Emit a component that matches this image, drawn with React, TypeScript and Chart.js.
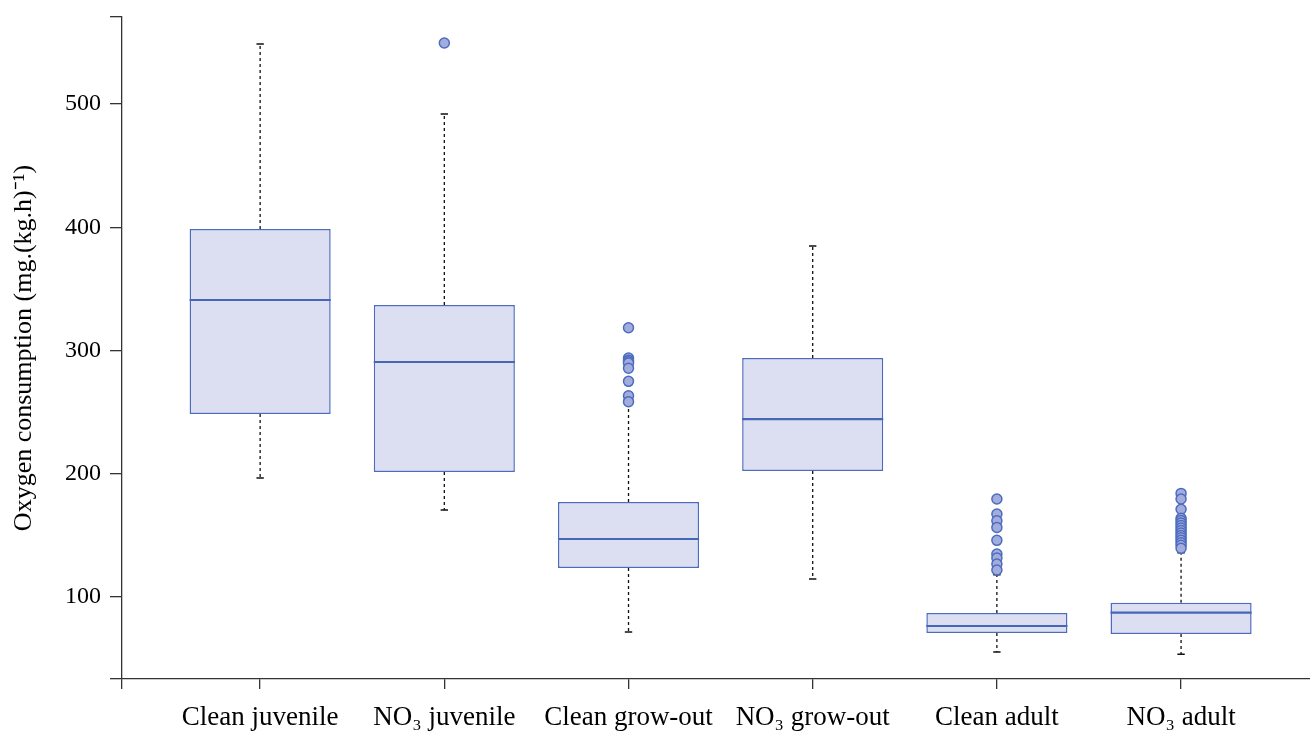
import React, { useEffect, useRef } from 'react';
import { Chart, registerables } from 'chart.js';

Chart.register(...registerables);

const categories = ['Clean juvenile', 'NO₃ juvenile', 'Clean grow-out', 'NO₃ grow-out', 'Clean adult', 'NO₃ adult'];
const whiskerLow = [196.5, 170.6, 71.6, 114.6, 55.4, 53.5];
const quartile1 = [248.5, 201.4, 123.5, 202.2, 70.8, 70.0];
const medians = [341.0, 290.7, 147.1, 244.4, 76.5, 87.3];
const quartile3 = [398.6, 336.9, 177.1, 293.9, 87.0, 95.4];
const whiskerHigh = [548.7, 491.9, 256, 384.8, 118, 136];
const outlierCleanJuvenile: number[] = [];
const outlierNO3Juvenile = [549.5];
const outlierCleanGrowOut = [318.5, 293.9, 292.2, 290.8, 289.9, 285.6, 275.0, 263.3, 258.5];
const outlierNO3GrowOut: number[] = [];
const outlierCleanAdult = [179.5, 167.3, 161.9, 156.5, 146.0, 134.9, 131.6, 126.8, 121.9];
const outlierNO3Adult = [184.1, 179.5, 171.2, 163.9, 162, 160, 158, 156, 154, 152, 150, 148, 146, 144, 142, 139.6];
const outliers = [outlierCleanJuvenile, outlierNO3Juvenile, outlierCleanGrowOut, outlierNO3GrowOut, outlierCleanAdult, outlierNO3Adult];
const yTickValues = [100, 200, 300, 400, 500];
const yMin = 33.5;
const yMax = 570.6;
const xMin = 0.25;
const xMax = 6.7;

const BOX_FRACTION = 0.766;
const CAP_HALF = 0.02;
const FONT = '"Liberation Serif", "Times New Roman", serif';
const BLUE = '#4d6cbf';

export default function App() {
  const ref = useRef<HTMLCanvasElement | null>(null);

  useEffect(() => {
    document.body.style.margin = '0';
    const canvas = ref.current;
    if (!canvas) return;
    const pos = (i: number) => i + 1;
    const half = BOX_FRACTION / 2;

    const boxData = categories.map((_, i) => ({ x: pos(i), y: [quartile1[i], quartile3[i]] }));
    const whiskerData: any[] = [];
    const capData: any[] = [];
    const medianData: any[] = [];
    const outlierData: any[] = [];
    categories.forEach((_, i) => {
      const x = pos(i);
      whiskerData.push({ x, y: quartile3[i] }, { x, y: whiskerHigh[i] }, { x, y: null });
      whiskerData.push({ x, y: quartile1[i] }, { x, y: whiskerLow[i] }, { x, y: null });
      capData.push({ x: x - CAP_HALF, y: whiskerHigh[i] }, { x: x + CAP_HALF, y: whiskerHigh[i] }, { x, y: null });
      capData.push({ x: x - CAP_HALF, y: whiskerLow[i] }, { x: x + CAP_HALF, y: whiskerLow[i] }, { x, y: null });
      medianData.push({ x: x - half, y: medians[i] }, { x: x + half, y: medians[i] }, { x, y: null });
      outliers[i].forEach((v) => outlierData.push({ x, y: v }));
    });

    // smallest gap between ticks is (1 - xMin), which Chart.js uses as the bar "ruler"
    const barPct = BOX_FRACTION / (pos(0) - xMin);

    const chart = new Chart(canvas, {
      type: 'bar',
      data: {
        datasets: [
          {
            type: 'bar',
            data: boxData as any,
            backgroundColor: '#dcdff1',
            borderColor: BLUE,
            borderWidth: 1.5,
            borderSkipped: false,
            barPercentage: barPct,
            categoryPercentage: 1,
            order: 3,
          } as any,
          {
            type: 'line',
            data: whiskerData,
            borderColor: '#111',
            borderWidth: 1.3,
            borderDash: [3, 3],
            pointRadius: 0,
            fill: false,
            spanGaps: false,
            order: 4,
          } as any,
          {
            type: 'line',
            data: capData,
            borderColor: '#111',
            borderWidth: 1.5,
            pointRadius: 0,
            fill: false,
            spanGaps: false,
            order: 4,
          } as any,
          {
            type: 'line',
            data: medianData,
            borderColor: '#4666b6',
            borderWidth: 2.2,
            pointRadius: 0,
            fill: false,
            spanGaps: false,
            order: 2,
          } as any,
          {
            type: 'scatter',
            data: outlierData,
            backgroundColor: '#a2acdd',
            borderColor: BLUE,
            borderWidth: 1.5,
            pointRadius: 5,
            order: 1,
          } as any,
        ],
      },
      options: {
        animation: false,
        responsive: false,
        maintainAspectRatio: false,
        layout: { autoPadding: false, padding: { top: 17, right: 0, bottom: 0, left: 0 } },
        plugins: { legend: { display: false }, tooltip: { enabled: false } },
        scales: {
          x: {
            type: 'linear',
            min: xMin,
            max: xMax,
            offset: false,
            grid: { display: true, offset: false, drawOnChartArea: false, drawTicks: true, tickLength: 10, color: '#333', lineWidth: 1.3 },
            border: { display: true, color: '#333', width: 1.3 },
            afterBuildTicks: (scale: any) => {
              scale.ticks = [xMin, ...categories.map((_, i) => pos(i))].map((v) => ({ value: v }));
            },
            afterFit: (scale: any) => {
              scale.height = 52;
              scale.paddingLeft = 0;
              scale.paddingRight = 0;
            },
            ticks: {
              autoSkip: false,
              maxRotation: 0,
              minRotation: 0,
              padding: 13,
              color: '#000',
              font: { family: FONT, size: 27 },
              callback: (v: any) => {
                const idx = Number(v) - 1;
                return Number.isInteger(idx) && idx >= 0 && idx < categories.length ? categories[idx] : '';
              },
            },
          },
          y: {
            type: 'linear',
            min: yMin,
            max: yMax,
            beginAtZero: false,
            grid: { display: true, drawOnChartArea: false, drawTicks: true, tickLength: 12, color: '#333', lineWidth: 1.3 },
            border: { display: true, color: '#333', width: 1.3 },
            afterBuildTicks: (scale: any) => {
              scale.ticks = [yMin, ...yTickValues, yMax].map((v) => ({ value: v }));
            },
            afterFit: (scale: any) => {
              scale.width = 122;
              scale.paddingTop = 0;
              scale.paddingBottom = 0;
            },
            title: {
              display: true,
              text: 'Oxygen consumption (mg.(kg.h)⁻¹)',
              color: '#000',
              font: { family: FONT, size: 26 },
              padding: { top: 9, bottom: 0 },
            },
            ticks: {
              padding: 9,
              color: '#000',
              font: { family: FONT, size: 24 },
              callback: (v: any) => (yTickValues.includes(Number(v)) ? String(v) : ''),
            },
          },
        },
      },
    });
    return () => chart.destroy();
  }, []);

  return (
    <div style={{ width: 1310, height: 731 }}>
      <canvas ref={ref} width={1310} height={731} style={{ display: 'block', width: 1310, height: 731 }} />
    </div>
  );
}
